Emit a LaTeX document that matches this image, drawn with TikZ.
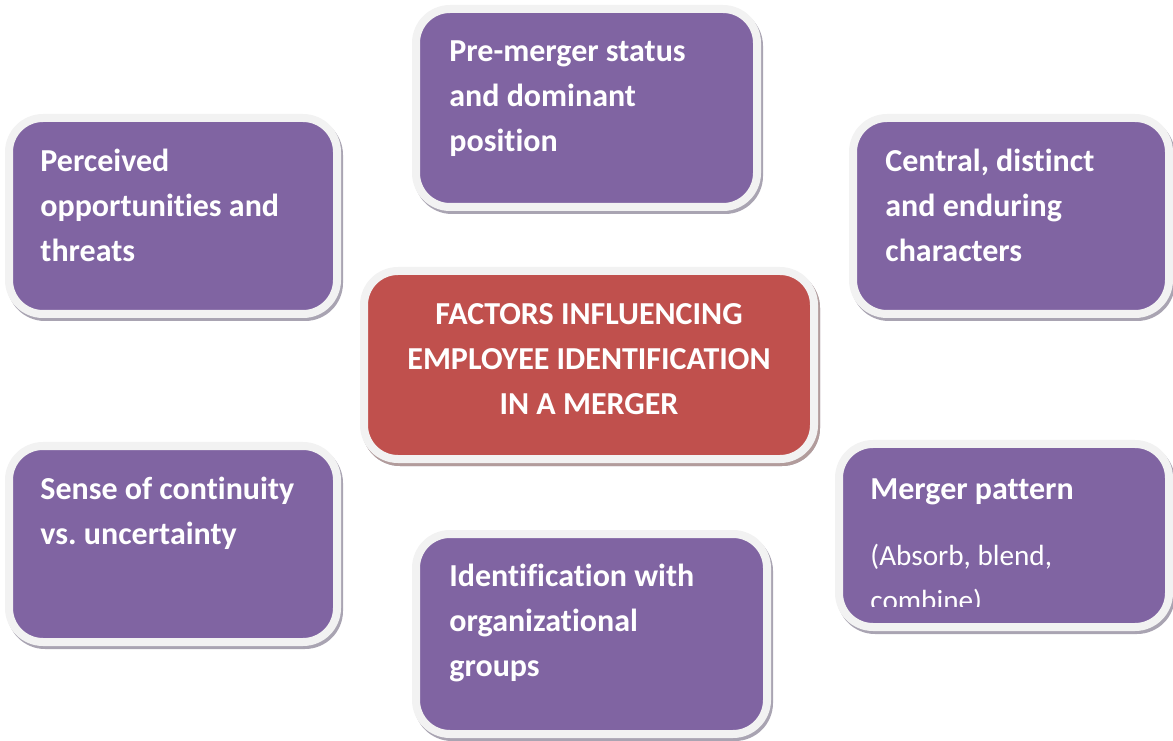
\documentclass[tikz,border=0pt]{standalone}
\usepackage{fontspec}
\setmainfont{Carlito}[Ligatures={NoCommon}]
\usepackage{tikz}
\frenchspacing
\definecolor{cpurple}{HTML}{8064A2}
\definecolor{cred}{HTML}{C0504D}
\definecolor{cframe}{HTML}{F2F2F2}
\definecolor{cshade}{HTML}{A9A4B2}
\definecolor{cshadered}{HTML}{B29C9C}

\begin{document}
\begin{tikzpicture}[x=0.5pt,y=0.5pt,
  box node/.style={rectangle,rounded corners=17pt,inner sep=0pt,draw=cframe,line width=4pt,
    preaction={draw=cshade,line width=4pt,transform canvas={shift={(1pt,-1.5pt)}}}},
  factor node/.style={box node,fill=cpurple},
  core node/.style={box node,fill=cred,
    preaction={draw=cshadered,line width=4pt,transform canvas={shift={(1pt,-1.5pt)}}}},
  text node/.style={anchor=north west,inner sep=0pt,align=left,text=white,
    font=\fontsize{16}{22.5}\selectfont\bfseries}]
  \useasboundingbox (0,0) rectangle (1173,740);

  \node[factor node,minimum width=164pt,minimum height=98pt] (1) at (173,524) {};
  \node[factor node,minimum width=170.5pt,minimum height=99pt] (2) at (586.5,632) {};
  \node[factor node,minimum width=158pt,minimum height=98pt] (3) at (1011,524) {};
  \node[core node,minimum width=225pt,minimum height=94pt] (4) at (589,375) {};
  \node[factor node,minimum width=164pt,minimum height=98pt] (5) at (173,196) {};
  \node[factor node,minimum width=165pt,minimum height=91.5pt] (6) at (1004,204.5) {};
  \node[factor node,minimum width=175.5pt,minimum height=100pt] (7) at (591.5,106) {};

  \node[text node] (1t) at (40,600.5) {\strut Perceived\\opportunities and\\threats};
  \node[text node] (2t) at (449,710.5) {\strut Pre-merger status\\and dominant\\position};
  \node[text node] (3t) at (885,600.5) {\strut Central, distinct\\and enduring\\characters};
  \node[text node,anchor=north,align=center] (4t) at (589,447.5)
    {\strut FACTORS INFLUENCING\\EMPLOYEE IDENTIFICATION\\IN A MERGER};
  \node[text node] (5t) at (40,272.5) {\strut Sense of continuity\\vs. uncertainty};
  \node[text node] (6t) at (870,272.5) {\strut Merger pattern};
  \begin{scope}
    \clip (843,134) rectangle (1165,292);
    \node[text node,font=\fontsize{14.6}{22.5}\selectfont] (6s) at (870,206.5)
      {\strut(Absorb, blend,\\combine)};
  \end{scope}
  \node[text node] (7t) at (449,185.5) {\strut Identification with\\organizational\\groups};
\end{tikzpicture}
\end{document}
